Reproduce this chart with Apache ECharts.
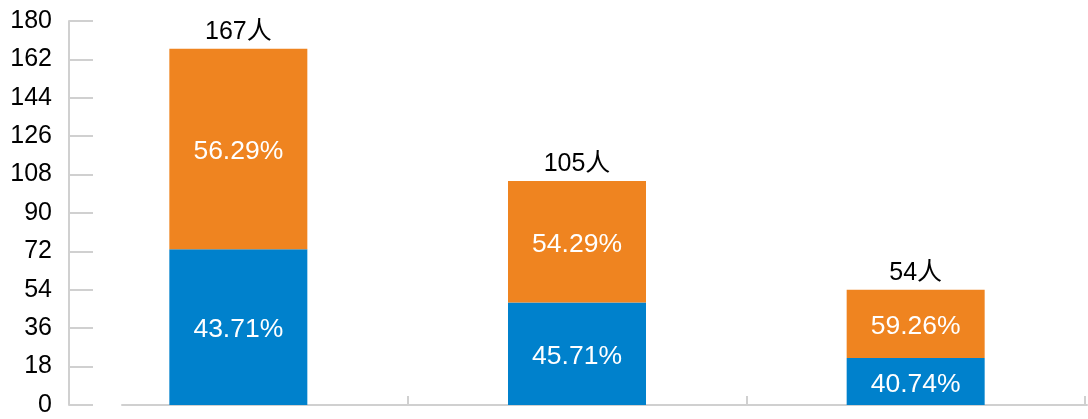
<!DOCTYPE html>
<html>
<head>
<meta charset="utf-8">
<script src="https://cdn.jsdelivr.net/npm/echarts@6/dist/echarts.min.js"></script>
<style>
  html, body { margin: 0; padding: 0; background: #ffffff; }
  #chart { width: 1088px; height: 419px; }
</style>
</head>
<body>
<div id="chart"></div>
<script>
// Group headcounts: lower (blue) and upper (orange) parts of each stacked bar
const categories = ['A', 'B', 'C'];
const lowerValues = [73, 48, 22];
const upperValues = [94, 57, 32];
const yTicks = [0, 18, 36, 54, 72, 90, 108, 126, 144, 162, 180];

const totals = lowerValues.map((v, i) => v + upperValues[i]);
const pct = (v, i) => (v / totals[i] * 100).toFixed(2) + '%';

const axisGray = '#d0d0d0';
const FONT = '"Liberation Sans", Arial, "Noto Sans CJK SC", sans-serif';

const chart = echarts.init(document.getElementById('chart'), null, { renderer: 'canvas' });

const pctLabel = {
  show: true,
  position: 'inside',
  offset: [0, 3],
  color: '#ffffff',
  fontSize: 26.5,
  fontFamily: FONT,
  formatter: p => pct(p.value, p.dataIndex)
};

chart.setOption({
  animation: false,
  backgroundColor: '#ffffff',
  grid: [
    { left: 69, right: 3, top: 21, bottom: 14, containLabel: false },
    // separate baseline strip that starts a little right of the value axis
    { left: 122, right: 1, top: 21, bottom: 14, containLabel: false }
  ],
  xAxis: [
    {
      type: 'category',
      gridIndex: 0,
      data: categories,
      axisLine: { show: false },
      axisTick: { show: true, inside: true, length: 9, lineStyle: { color: axisGray, width: 2 } },
      axisLabel: { show: false },
      splitLine: { show: false }
    },
    {
      type: 'value',
      gridIndex: 1,
      min: 0,
      max: 1,
      axisLine: { show: true, lineStyle: { color: axisGray, width: 2 } },
      axisTick: { show: false },
      axisLabel: { show: false },
      splitLine: { show: false }
    }
  ],
  yAxis: [
    {
      type: 'value',
      gridIndex: 0,
      min: yTicks[0],
      max: yTicks[yTicks.length - 1],
      interval: yTicks[1] - yTicks[0],
      axisLine: { show: true, lineStyle: { color: axisGray, width: 2 } },
      axisTick: { show: true, inside: true, length: 24, lineStyle: { color: axisGray, width: 2 } },
      axisLabel: { color: '#000000', fontSize: 25, fontFamily: FONT, margin: 17 },
      splitLine: { show: false }
    },
    {
      type: 'value',
      gridIndex: 1,
      min: 0,
      max: 1,
      show: false
    }
  ],
  series: [
    {
      name: 'lower',
      type: 'bar',
      stack: 'total',
      xAxisIndex: 0,
      yAxisIndex: 0,
      barWidth: 138,
      data: lowerValues,
      itemStyle: { color: '#0081cc' },
      label: pctLabel
    },
    {
      name: 'upper',
      type: 'bar',
      stack: 'total',
      xAxisIndex: 0,
      yAxisIndex: 0,
      barWidth: 138,
      data: upperValues,
      itemStyle: { color: '#ef8420' },
      label: pctLabel
    },
    {
      // invisible carrier for the headcount labels above each stack
      name: 'total',
      type: 'bar',
      stack: 'total',
      xAxisIndex: 0,
      yAxisIndex: 0,
      barWidth: 138,
      data: totals.map(() => 0),
      itemStyle: { color: 'transparent' },
      label: {
        show: true,
        position: 'top',
        distance: 4,
        color: '#000000',
        fontSize: 25,
        fontFamily: FONT,
        formatter: p => totals[p.dataIndex] + '人'
      }
    }
  ]
});
</script>
</body>
</html>
